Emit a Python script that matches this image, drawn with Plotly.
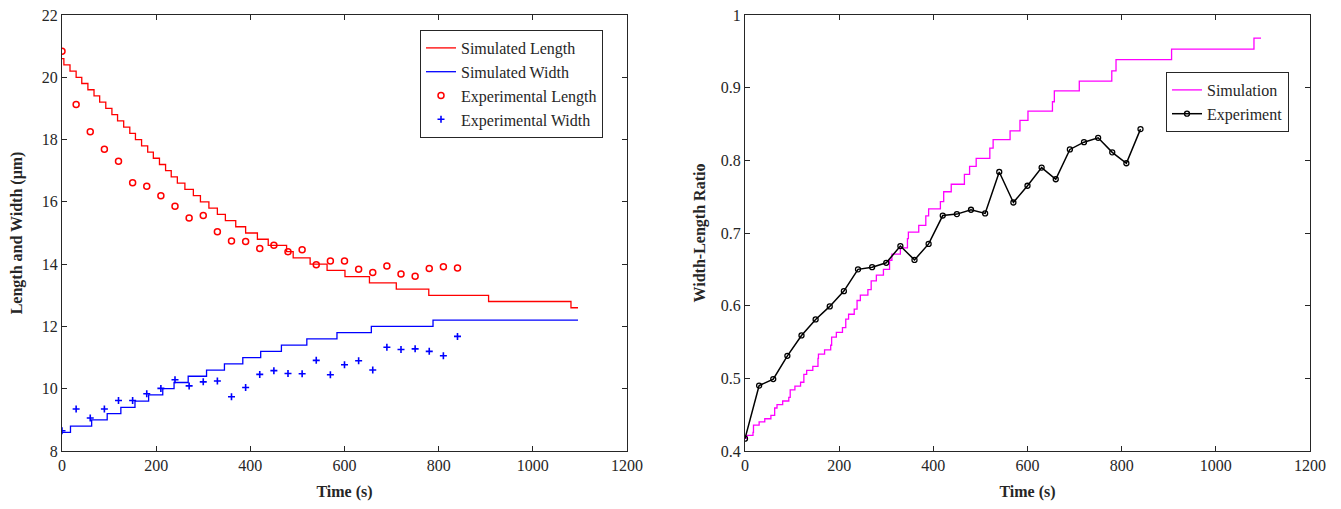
import plotly.graph_objects as go

# ---------------- data ----------------
# Simulated length: times (s) at which a new level starts, and the level (um)
sim_len_t = [0, 4, 17, 30, 42, 55, 68, 80, 93, 106, 118, 131, 144, 156, 169, 182, 194,
             207, 220, 232, 245, 261, 279, 294, 312, 330, 347, 369, 390, 415, 438, 477,
             491, 527, 563, 601, 653, 710, 779, 906, 1081, 1096]
sim_len_v = [20.6, 20.4, 20.2, 20.0, 19.8, 19.6, 19.4, 19.2, 19.0, 18.8, 18.6, 18.4, 18.2,
             18.0, 17.8, 17.6, 17.4, 17.2, 17.0, 16.8, 16.6, 16.4, 16.2, 16.0, 15.8, 15.6,
             15.4, 15.2, 15.0, 14.8, 14.6, 14.4, 14.2, 14.0, 13.8, 13.6, 13.4, 13.2, 13.0,
             12.8, 12.6, 12.6]

# Simulated width
sim_wid_t = [0, 18, 63, 96, 125, 155, 184, 214, 238, 268, 307, 345, 384, 422, 466, 520,
             584, 657, 788, 1096]
sim_wid_v = [8.6, 8.8, 9.0, 9.2, 9.4, 9.6, 9.8, 10.0, 10.2, 10.4, 10.6, 10.8, 11.0, 11.2,
             11.4, 11.6, 11.8, 12.0, 12.2, 12.2]

# Experimental measurements every 30 s
exp_t = [0, 30, 60, 90, 120, 150, 180, 210, 240, 270, 300, 330, 360, 390, 420, 450, 480,
         510, 540, 570, 600, 630, 660, 690, 720, 750, 780, 810, 840]
exp_len = [20.84, 19.13, 18.25, 17.69, 17.30, 16.61, 16.50, 16.20, 15.86, 15.48, 15.56,
           15.04, 14.74, 14.73, 14.50, 14.61, 14.40, 14.46, 13.98, 14.10, 14.10, 13.84,
           13.73, 13.94, 13.68, 13.61, 13.86, 13.92, 13.88]
exp_wid = [8.65, 9.35, 9.06, 9.35, 9.62, 9.62, 9.84, 10.01, 10.29, 10.09, 10.22, 10.25,
           9.74, 10.04, 10.46, 10.58, 10.49, 10.48, 10.91, 10.45, 10.77, 10.90, 10.60,
           11.33, 11.26, 11.28, 11.20, 11.06, 11.68]

# Simulated width-length ratio (step changes)
sim_ratio_t = [0, 4, 17, 18, 30, 42, 55, 63, 68, 80, 93, 96, 106, 118, 125, 131, 144, 155,
               156, 169, 182, 184, 194, 207, 214, 220, 232, 238, 245, 261, 268, 279, 294,
               307, 312, 330, 345, 347, 369, 384, 390, 415, 422, 438, 466, 477, 491, 520,
               527, 563, 584, 601, 653, 657, 710, 779, 788, 906, 1081, 1096]
sim_ratio_v = [0.4175, 0.4216, 0.4257, 0.4356, 0.4400, 0.4444, 0.4490, 0.4592, 0.4639,
               0.4688, 0.4737, 0.4842, 0.4894, 0.4946, 0.5054, 0.5109, 0.5165, 0.5275,
               0.5333, 0.5393, 0.5455, 0.5568, 0.5632, 0.5698, 0.5814, 0.5882, 0.5952,
               0.6071, 0.6145, 0.6220, 0.6341, 0.6420, 0.6500, 0.6625, 0.6709, 0.6795,
               0.6923, 0.7013, 0.7105, 0.7237, 0.7333, 0.7432, 0.7568, 0.7671, 0.7808,
               0.7917, 0.8028, 0.8169, 0.8286, 0.8406, 0.8551, 0.8676, 0.8806, 0.8955,
               0.9091, 0.9231, 0.9385, 0.9531, 0.9683, 0.9683]

# Experimental ratio
exp_ratio = [0.417, 0.490, 0.499, 0.531, 0.559, 0.581, 0.599, 0.620, 0.650, 0.653, 0.659,
             0.682, 0.663, 0.685, 0.724, 0.726, 0.732, 0.727, 0.784, 0.742, 0.765, 0.790,
             0.774, 0.815, 0.825, 0.831, 0.811, 0.796, 0.843]

x_ticks = [0, 200, 400, 600, 800, 1000, 1200]
left_y_ticks = [8, 10, 12, 14, 16, 18, 20, 22]
right_y_ticks = [0.4, 0.5, 0.6, 0.7, 0.8, 0.9, 1.0]
right_y_labels = ["0.4", "0.5", "0.6", "0.7", "0.8", "0.9", "1"]

# ---------------- figure ----------------
FONT = "Liberation Serif, Times New Roman, serif"
W, H = 1341, 509
FS = 16

fig = go.Figure()

fig.add_trace(go.Scatter(x=sim_len_t, y=sim_len_v, mode="lines", line_shape="hv",
                         line=dict(color="#FF0000", width=1.3), name="Simulated Length",
                         xaxis="x", yaxis="y", legend="legend"))
fig.add_trace(go.Scatter(x=sim_wid_t, y=sim_wid_v, mode="lines", line_shape="hv",
                         line=dict(color="#0000FF", width=1.3), name="Simulated Width",
                         xaxis="x", yaxis="y", legend="legend"))
fig.add_trace(go.Scatter(x=exp_t, y=exp_len, mode="markers",
                         marker=dict(symbol="circle-open", color="#FF0000", size=6,
                                     line=dict(width=1.5, color="#FF0000")),
                         name="Experimental Length", xaxis="x", yaxis="y", legend="legend"))
fig.add_trace(go.Scatter(x=exp_t, y=exp_wid, mode="markers",
                         marker=dict(symbol="cross-thin", color="#0000FF", size=5,
                                     line=dict(width=1.6, color="#0000FF")),
                         name="Experimental Width", xaxis="x", yaxis="y", legend="legend"))

fig.add_trace(go.Scatter(x=sim_ratio_t, y=sim_ratio_v, mode="lines", line_shape="hv",
                         line=dict(color="#FF00FF", width=1.3), name="Simulation",
                         xaxis="x2", yaxis="y2", legend="legend2"))
fig.add_trace(go.Scatter(x=exp_t, y=exp_ratio, mode="lines+markers",
                         line=dict(color="#000000", width=1.5),
                         marker=dict(symbol="circle-open", color="#000000", size=5,
                                     line=dict(width=1.3, color="#000000")),
                         name="Experiment", xaxis="x2", yaxis="y2", legend="legend2"))

axis_common = dict(showline=True, linecolor="#262626", linewidth=1, mirror="allticks",
                   ticks="inside", ticklen=5, tickwidth=1, tickcolor="#262626",
                   showgrid=False, zeroline=False, automargin=False,
                   tickfont=dict(family=FONT, size=FS, color="#262626"))

yd = [58 / H, 494 / H]

fig.update_layout(
    template="none",
    width=W, height=H, autosize=False,
    margin=dict(l=0, r=0, t=0, b=0, pad=0),
    paper_bgcolor="white", plot_bgcolor="white",
    font=dict(family=FONT, size=FS, color="#262626"),
    showlegend=True,
    xaxis=dict(domain=[62 / W, 627 / W], range=[0, 1200], tickvals=x_ticks, anchor="y",
               title=dict(text="<b>Time (s)</b>", font=dict(family=FONT, size=FS), standoff=12),
               **axis_common),
    yaxis=dict(domain=yd, range=[8, 22], tickvals=left_y_ticks, anchor="x",
               title=dict(text="<b>Length and Width (\u03bcm)</b>", font=dict(family=FONT, size=FS),
                          standoff=15),
               **axis_common),
    xaxis2=dict(domain=[745 / W, 1310 / W], range=[0, 1200], tickvals=x_ticks, anchor="y2",
                title=dict(text="<b>Time (s)</b>", font=dict(family=FONT, size=FS), standoff=12),
                **axis_common),
    yaxis2=dict(domain=yd, range=[0.4, 1.0], tickvals=right_y_ticks, ticktext=right_y_labels,
                anchor="x2",
                title=dict(text="<b>Width-Length Ratio</b>", font=dict(family=FONT, size=FS),
                           standoff=11),
                **axis_common),
    legend=dict(x=420 / W, y=1 - 30 / H, xanchor="left", yanchor="top",
                bgcolor="white", bordercolor="#262626", borderwidth=1,
                font=dict(family=FONT, size=FS, color="#262626"),
                tracegroupgap=0, itemwidth=30),
    legend2=dict(x=1166 / W, y=1 - 72 / H, xanchor="left", yanchor="top",
                 bgcolor="white", bordercolor="#262626", borderwidth=1,
                 font=dict(family=FONT, size=FS, color="#262626"),
                 tracegroupgap=0, itemwidth=30),
)

post = ("document.documentElement.style.margin='0';document.body.style.margin='0';"
        "document.body.style.overflow='hidden';"
        "var gd=document.getElementById('{plot_id}');"
        "Plotly.relayout(gd,{width:%d,height:%d});" % (W, H))

fig.write_html("out.html", config={"responsive": False, "displayModeBar": False},
               post_script=post)
